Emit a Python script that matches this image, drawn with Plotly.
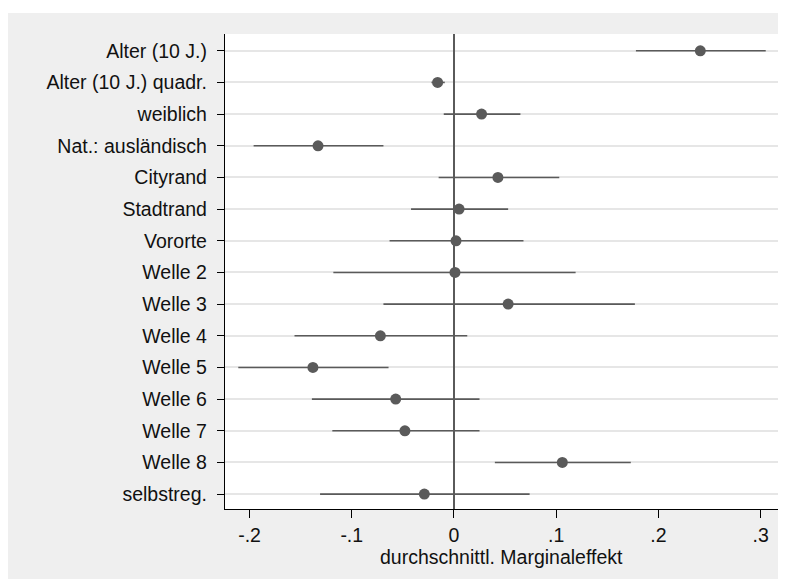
import plotly.graph_objects as go

# Average marginal effects with 95% confidence intervals
labels = [
    "Alter (10 J.)", "Alter (10 J.) quadr.", "weiblich", "Nat.: ausländisch",
    "Cityrand", "Stadtrand", "Vororte", "Welle 2", "Welle 3", "Welle 4",
    "Welle 5", "Welle 6", "Welle 7", "Welle 8", "selbstreg.",
]
effects = [0.241, -0.016, 0.027, -0.133, 0.043, 0.005, 0.002, 0.001,
           0.053, -0.072, -0.138, -0.057, -0.048, 0.106, -0.029]
ci_low = [0.178, -0.022, -0.010, -0.196, -0.015, -0.042, -0.063, -0.118,
          -0.069, -0.156, -0.211, -0.139, -0.119, 0.040, -0.131]
ci_high = [0.305, -0.009, 0.065, -0.069, 0.103, 0.053, 0.068, 0.119,
           0.177, 0.013, -0.064, 0.025, 0.025, 0.173, 0.074]

x_ticks = [-0.2, -0.1, 0, 0.1, 0.2, 0.3]
x_ticktext = ["-.2", "-.1", "0", ".1", ".2", ".3"]

mark_color = "#5a5a5a"
bg_gray = "#efefef"
font_family = "Liberation Sans, Arial, sans-serif"

ypos = list(range(len(labels)))
err_plus = [h - e for h, e in zip(ci_high, effects)]
err_minus = [e - l for e, l in zip(effects, ci_low)]

fig = go.Figure()
fig.add_trace(go.Scatter(
    x=effects,
    y=ypos,
    mode="markers",
    marker=dict(color=mark_color, size=11),
    error_x=dict(
        type="data",
        symmetric=False,
        array=err_plus,
        arrayminus=err_minus,
        color=mark_color,
        thickness=1.6,
        width=0,
    ),
    showlegend=False,
))

fig.update_layout(
    width=778,
    height=571,
    paper_bgcolor=bg_gray,
    plot_bgcolor="white",
    margin=dict(l=217, r=8, t=26, b=70),
    font=dict(family=font_family, size=19.5, color="#111111"),
    xaxis=dict(
        range=[-0.224, 0.317],
        tickvals=x_ticks,
        ticktext=x_ticktext,
        showgrid=False,
        zeroline=True,
        zerolinecolor=mark_color,
        zerolinewidth=1.6,
        showline=True,
        linecolor="black",
        linewidth=1.3,
        ticks="outside",
        ticklen=8,
        tickwidth=1.3,
        tickcolor="black",
    ),
    yaxis=dict(
        range=[14.47, -0.53],
        tickvals=ypos,
        ticktext=labels,
        showgrid=True,
        gridcolor="#e6e6e6",
        gridwidth=1.5,
        zeroline=False,
        showline=True,
        linecolor="black",
        linewidth=1.3,
        ticks="outside",
        ticklen=7,
        tickwidth=1.3,
        tickcolor="black",
        ticklabelstandoff=6,
    ),
    annotations=[dict(
        text="durchschnittl. Marginaleffekt",
        xref="paper", yref="paper",
        x=0.5, y=-0.102,
        xanchor="center", yanchor="middle",
        showarrow=False,
        font=dict(family=font_family, size=19.5, color="#111111"),
    )],
    shapes=[dict(
        type="rect", xref="paper", yref="paper",
        x0=-0.5, x1=1.5, y0=1 + 21 / 475, y1=1.2,
        fillcolor="white", line=dict(width=0), layer="below",
    )],
)

fig.write_html("out.html")
